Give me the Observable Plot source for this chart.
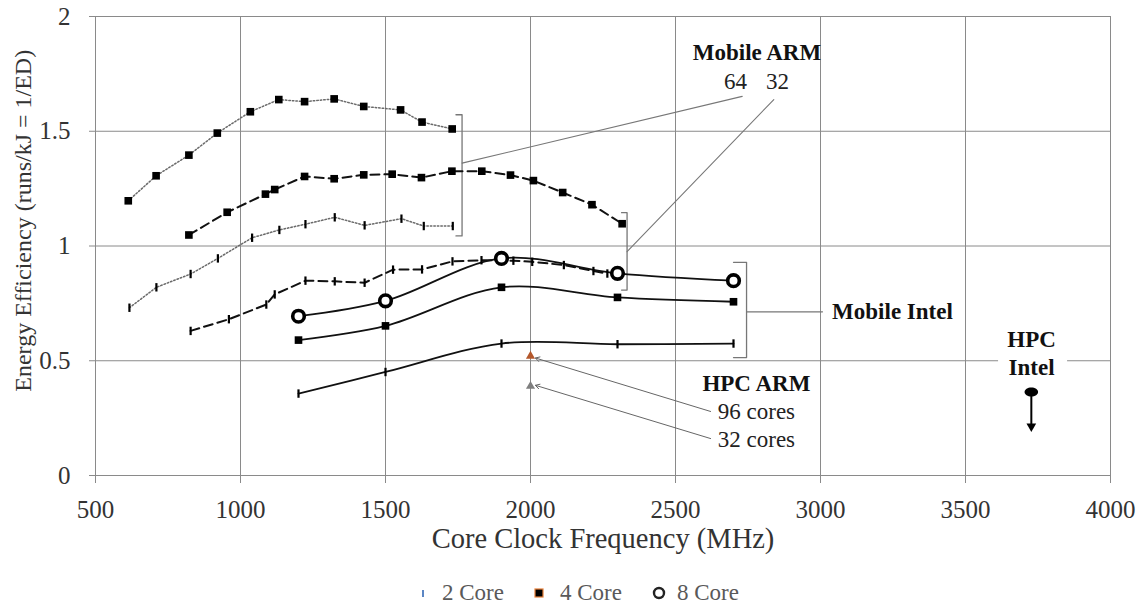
<!DOCTYPE html>
<html>
<head>
<meta charset="utf-8">
<script src="https://cdn.jsdelivr.net/npm/d3@7"></script>
<script src="https://cdn.jsdelivr.net/npm/@observablehq/plot@0.6"></script>
<style>
  html, body { margin: 0; padding: 0; background: #fff; }
  #wrap { width: 1142px; height: 606px; position: relative; overflow: hidden; font-family: "Liberation Serif", "Times New Roman", serif; }
  #legend { position: relative; width: 1142px; height: 31px; color: #595959; font-size: 23px; }
  .li { position: absolute; top: 0; height: 36px; line-height: 36px; white-space: nowrap; }
  .mk { position: absolute; }
</style>
</head>
<body>
<div id="wrap">
  <div id="chart"></div>
  <div id="legend"></div>
</div>
<script>
// ---------- data ----------
const xTicks = [500, 1000, 1500, 2000, 2500, 3000, 3500, 4000];
const yTicks = [0, 0.5, 1, 1.5, 2];
const yTickLabels = ["0", "0.5", "1", "1.5", "2"];
const xTitle = "Core Clock Frequency (MHz)";
const yTitle = "Energy Efficiency (runs/kJ = 1/ED)";

// Mobile ARM, 64-bit, 4 core (dotted, squares)
const arm64q_f = [613, 709, 822, 920, 1034, 1132, 1221, 1323, 1425, 1552, 1626, 1730];
const arm64q_e = [1.197, 1.306, 1.396, 1.492, 1.585, 1.638, 1.629, 1.641, 1.608, 1.593, 1.540, 1.510];
// Mobile ARM, 32-bit, 4 core (dashed, squares)
const arm32q_f = [822, 954, 1086, 1118, 1221, 1323, 1425, 1523, 1624, 1729, 1832, 1931, 2010, 2111, 2212, 2316];
const arm32q_e = [1.048, 1.147, 1.226, 1.246, 1.303, 1.293, 1.310, 1.313, 1.298, 1.326, 1.326, 1.309, 1.285, 1.233, 1.180, 1.097];
// Mobile ARM, 64-bit, 2 core (dotted, ticks)
const arm64d_f = [617, 710, 828, 922, 1040, 1134, 1224, 1325, 1428, 1555, 1632, 1732];
const arm64d_e = [0.731, 0.820, 0.878, 0.946, 1.036, 1.070, 1.095, 1.125, 1.090, 1.119, 1.087, 1.087];
// Mobile ARM, 32-bit, 2 core (dashed, ticks)
const arm32d_f = [828, 960, 1089, 1118, 1224, 1325, 1428, 1526, 1626, 1731, 1831, 1941, 2006, 2115, 2217, 2265];
const arm32d_e = [0.630, 0.681, 0.745, 0.789, 0.849, 0.846, 0.840, 0.897, 0.898, 0.933, 0.938, 0.936, 0.931, 0.917, 0.891, 0.880];
// Mobile Intel
const intel_f = [1200, 1500, 1900, 2300, 2700];
const intel8_e = [0.694, 0.761, 0.946, 0.881, 0.849];
const intel4_e = [0.590, 0.652, 0.820, 0.776, 0.757];
const intel2_e = [0.357, 0.451, 0.575, 0.572, 0.575];
// HPC ARM
const hpcArm_f = [2000, 2000];
const hpcArm_e = [0.520, 0.389];
const hpcArm_lbl = ["96 cores", "32 cores"];
// HPC Intel
const hpcIntel_f = [3727];
const hpcIntel_e = [0.364];
const hpcIntel_arrowTo = [0.214];

// legend
const legendLabels = ["2 Core", "4 Core", "8 Core"];

// ---------- annotations (data coordinates) ----------
const annoBoldCenter = [
  {x: 2781, y: 1.841, t: "Mobile ARM"},
  {x: 2779, y: 0.402, t: "HPC ARM"},
  {x: 3728, y: 0.590, t: "HPC"},
  {x: 3728, y: 0.472, t: "Intel"}
];
const annoBoldStart = [
  {x: 3040, y: 0.713, t: "Mobile Intel"}
];
const annoReg = [
  {x: 2707, y: 1.718, t: "64"},
  {x: 2852, y: 1.718, t: "32"},
  {x: 2779, y: 0.279, t: hpcArm_lbl[0]},
  {x: 2779, y: 0.155, t: hpcArm_lbl[1]}
];
const yTitlePos = [{x: 250, y: 1.11}];
const brackets = [
  [[1743, 1.572], [1764, 1.572], [1764, 1.044], [1743, 1.044]],
  [[2314, 1.145], [2333, 1.145], [2333, 0.808], [2314, 0.808]],
  [[2700, 0.929], [2745, 0.929], [2745, 0.514], [2700, 0.514]]
];
const leaders = [
  [[1764, 1.361], [2730, 1.652]],
  [[2333, 0.975], [2839, 1.638]],
  [[2747, 0.713], [3007, 0.713]]
];
const hpcArrows = [
  {x1: 2621, y1: 0.279, x2: 2017, y2: hpcArm_e[0] - 0.008},
  {x1: 2621, y1: 0.161, x2: 2017, y2: hpcArm_e[1] + 0.004}
];

// ---------- helpers ----------
const zip = (xs, ys) => xs.map((x, i) => ({x, y: ys[i]}));
const tickSym = {draw(ctx, size) { const h = Math.sqrt(size / Math.PI); ctx.moveTo(0, -h); ctx.lineTo(0, h); }};
const ellSym = {draw(ctx, size) {
  const r = Math.sqrt(size / Math.PI), rx = r * 1.5, ry = r, k = 0.5523;
  ctx.moveTo(rx, 0);
  ctx.bezierCurveTo(rx, ry * k, rx * k, ry, 0, ry);
  ctx.bezierCurveTo(-rx * k, ry, -rx, ry * k, -rx, 0);
  ctx.bezierCurveTo(-rx, -ry * k, -rx * k, -ry, 0, -ry);
  ctx.bezierCurveTo(rx * k, -ry, rx, -ry * k, rx, 0);
  ctx.closePath();
}};

const A = zip(arm64q_f, arm64q_e), B = zip(arm32q_f, arm32q_e);
const C = zip(arm64d_f, arm64d_e), D = zip(arm32d_f, arm32d_e);
const I8 = zip(intel_f, intel8_e), I4 = zip(intel_f, intel4_e), I2 = zip(intel_f, intel2_e);
const H = zip(hpcArm_f, hpcArm_e).map((d, i) => ({...d, c: i === 0 ? "#b4582c" : "#7f7f7f"}));
const HI = zip(hpcIntel_f, hpcIntel_e);

const grid = "#8a8a8a";
const font = "'Liberation Serif', 'Times New Roman', serif";

const marks = [
  Plot.gridX(xTicks, {stroke: grid, strokeOpacity: 1, strokeWidth: 1}),
  Plot.gridY(yTicks, {stroke: grid, strokeOpacity: 1, strokeWidth: 1}),
  Plot.axisX(xTicks, {tickSize: 8, tickPadding: 17, fontSize: 25, stroke: grid, tickFormat: d => String(d), label: null, fill: "#333"}),
  Plot.axisY(yTicks, {tickSize: 6, tickPadding: 19, fontSize: 25, stroke: grid, tickFormat: d => yTickLabels[yTicks.indexOf(d)], label: null, fill: "#333"}),
  Plot.text([xTitle], {frameAnchor: "bottom", dy: 72, fontSize: 28.5, fill: "#333", text: d => d}),
  Plot.text(yTitlePos, {x: "x", y: "y", text: () => yTitle, rotate: -90, fontSize: 24, fill: "#333"}),

  // white background behind HPC Intel label
  Plot.rect([{x1: 3614, x2: 3852, y1: 0.437, y2: 0.633}], {x1: "x1", x2: "x2", y1: "y1", y2: "y2", fill: "white"}),

  // brackets and leaders
  ...brackets.map(b => Plot.line(b, {x: d => d[0], y: d => d[1], stroke: "#777", strokeWidth: 1.3})),
  ...leaders.map(b => Plot.line(b, {x: d => d[0], y: d => d[1], stroke: "#777", strokeWidth: 1.1})),

  // Mobile ARM series
  Plot.line(A, {x: "x", y: "y", stroke: "#6a6a6a", strokeWidth: 1.5, strokeDasharray: "1.5,2"}),
  Plot.line(B, {x: "x", y: "y", stroke: "#111", strokeWidth: 2, strokeDasharray: "9,5"}),
  Plot.line(C, {x: "x", y: "y", stroke: "#6a6a6a", strokeWidth: 1.5, strokeDasharray: "1.5,2"}),
  Plot.line(D, {x: "x", y: "y", stroke: "#111", strokeWidth: 2, strokeDasharray: "9,5"}),
  // Mobile Intel
  Plot.line(I8, {x: "x", y: "y", stroke: "#111", strokeWidth: 1.8, curve: "catmull-rom"}),
  Plot.line(I4, {x: "x", y: "y", stroke: "#111", strokeWidth: 1.8, curve: "catmull-rom"}),
  Plot.line(I2, {x: "x", y: "y", stroke: "#111", strokeWidth: 1.8, curve: "catmull-rom"}),

  // markers
  Plot.dot(A, {x: "x", y: "y", symbol: "square", r: 4.3, fill: "#000", stroke: "none"}),
  Plot.dot(B, {x: "x", y: "y", symbol: "square", r: 4.3, fill: "#000", stroke: "none"}),
  Plot.dot(C, {x: "x", y: "y", symbol: tickSym, r: 4.2, fill: "none", stroke: "#000", strokeWidth: 2.2}),
  Plot.dot(D, {x: "x", y: "y", symbol: tickSym, r: 4.2, fill: "none", stroke: "#000", strokeWidth: 2.2}),
  Plot.dot(I4, {x: "x", y: "y", symbol: "square", r: 4.3, fill: "#000", stroke: "none"}),
  Plot.dot(I2, {x: "x", y: "y", symbol: tickSym, r: 4.2, fill: "none", stroke: "#000", strokeWidth: 2.2}),
  Plot.dot(I8, {x: "x", y: "y", r: 5.8, fill: "white", stroke: "#000", strokeWidth: 3.6}),

  // HPC ARM
  Plot.dot(H, {x: "x", y: "y", symbol: "triangle", r: 3.4, fill: "c", stroke: "none"}),
  Plot.arrow(hpcArrows, {x1: "x1", y1: "y1", x2: "x2", y2: "y2", stroke: "#666", strokeWidth: 1, headLength: 7}),

  // HPC Intel
  Plot.link(HI, {x1: "x", x2: "x", y1: "y", y2: () => hpcIntel_arrowTo[0] + 0.01, stroke: "#000", strokeWidth: 2}),
  Plot.dot(HI, {x: "x", y: () => hpcIntel_arrowTo[0], symbol: "triangle", rotate: 180, r: 3.6, fill: "#000", stroke: "none"}),
  Plot.dot(HI, {x: "x", y: "y", symbol: ellSym, r: 4.5, fill: "#000", stroke: "none"}),

  // annotation text
  Plot.text(annoBoldCenter, {x: "x", y: "y", text: "t", textAnchor: "middle", fontSize: 23, fontWeight: "bold", fill: "#111"}),
  Plot.text(annoBoldStart, {x: "x", y: "y", text: "t", textAnchor: "start", fontSize: 23, fontWeight: "bold", fill: "#111"}),
  Plot.text(annoReg, {x: "x", y: "y", text: "t", fontSize: 23, fill: "#222"})
];

const chart = Plot.plot({
  width: 1142,
  height: 575,
  marginLeft: 95,
  marginRight: 32,
  marginTop: 16,
  marginBottom: 100,
  style: {fontFamily: font, fontSize: "25px", background: "white", overflow: "visible"},
  x: {domain: [500, 4000]},
  y: {domain: [0, 2]},
  marks
});
document.getElementById("chart").appendChild(chart);

// ---------- legend ----------
const leg = document.getElementById("legend");
const legendPos = [{m: 423, t: 442}, {m: 539, t: 560}, {m: 659, t: 677}];
const markerSvgs = [
  '<svg width="6" height="10"><line x1="3" y1="2" x2="3" y2="9" stroke="#5b86c4" stroke-width="2"/></svg>',
  '<svg width="10" height="10"><rect x="1" y="1" width="8" height="8" fill="#000" stroke="#e8803a" stroke-width="1.2"/></svg>',
  '<svg width="14" height="14"><circle cx="7" cy="7" r="5" fill="#fff" stroke="#222" stroke-width="2.4"/></svg>'
];
const markerSizes = [[6, 10], [10, 10], [14, 14]];
legendLabels.forEach((lab, i) => {
  const m = document.createElement("div");
  m.className = "mk";
  m.style.left = (legendPos[i].m - markerSizes[i][0] / 2) + "px";
  m.style.top = (18 - markerSizes[i][1] / 2) + "px";
  m.innerHTML = markerSvgs[i];
  m.style.lineHeight = "0";
  leg.appendChild(m);
  const t = document.createElement("div");
  t.className = "li";
  t.style.left = legendPos[i].t + "px";
  t.textContent = lab;
  leg.appendChild(t);
});
</script>
</body>
</html>
